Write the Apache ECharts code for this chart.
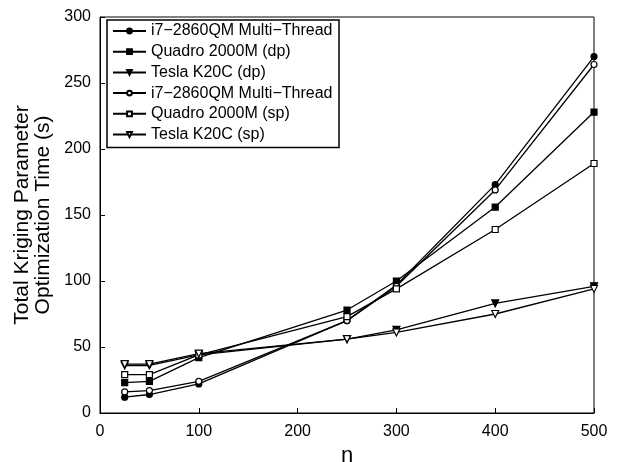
<!DOCTYPE html>
<html>
<head>
<meta charset="utf-8">
<script src="https://cdn.jsdelivr.net/npm/echarts@6/dist/echarts.min.js"></script>
<style>
  html, body { margin: 0; padding: 0; background: #fff; }
  #chart { width: 622px; height: 462px; }
</style>
</head>
<body>
<div id="chart"></div>
<script>
// problem sizes (n)
var nValues = [25, 50, 100, 250, 300, 400, 500];

// optimization time in seconds
var i7Dp = [12, 14, 22, 70, 97, 173, 270];
var quadroDp = [23, 24, 42, 78, 100, 156, 228];
var teslaDp = [36, 36, 44, 56, 63, 83, 96];
var i7Sp = [16, 17, 24, 70, 96, 169, 264];
var quadroSp = [29, 29, 44, 73, 94, 139, 189];
var teslaSp = [37, 37, 45, 56, 61, 75, 94];

var xTicks = [0, 100, 200, 300, 400, 500];
var yTicks = [0, 50, 100, 150, 200, 250, 300];

var font = 'Liberation Sans, Arial, Helvetica, sans-serif';

function pairs(vals) {
    var out = [];
    for (var i = 0; i < nValues.length; i++) {
        out.push([nValues[i], vals[i]]);
    }
    return out;
}

function makeSeries(name, vals, symbol, filled, size) {
    return {
        name: name,
        type: 'line',
        data: pairs(vals),
        symbol: symbol,
        symbolSize: size,
        showAllSymbol: true,
        lineStyle: { color: '#000', width: 1.3 },
        itemStyle: {
            color: filled ? '#000' : '#fff',
            borderColor: '#000',
            borderWidth: 1.2
        },
        emphasis: { disabled: true },
        animation: false
    };
}

var triDown = 'path://M0,0 L10,0 L5,9 Z';

var chart = echarts.init(document.getElementById('chart'));
var options = {
    backgroundColor: '#fff',
    textStyle: { fontFamily: font },
    grid: {
        left: 100,
        right: 28,
        top: 17,
        bottom: 49,
        outerBoundsMode: 'none',
        show: true,
        borderColor: '#000',
        borderWidth: 1
    },
    legend: {
        orient: 'vertical',
        left: 107,
        top: 20,
        itemWidth: 33,
        itemHeight: 6,
        itemGap: 4.7,
        padding: [3, 1, 5, 5],
        borderColor: '#000',
        borderWidth: 1.5,
        backgroundColor: '#fff',
        textStyle: {
            fontFamily: font,
            fontSize: 16,
            lineHeight: 16,
            color: '#000',
            width: 187,
            overflow: 'truncate',
            ellipsis: ''
        },
        data: [
            'i7\u22122860QM Multi\u2212Threaded (dp)',
            'Quadro 2000M (dp)',
            'Tesla K20C (dp)',
            'i7\u22122860QM Multi\u2212Threaded (sp)',
            'Quadro 2000M (sp)',
            'Tesla K20C (sp)'
        ]
    },
    xAxis: {
        type: 'value',
        min: xTicks[0],
        max: xTicks[xTicks.length - 1],
        interval: 100,
        name: 'n',
        nameLocation: 'middle',
        nameGap: 21,
        nameTextStyle: { fontFamily: font, fontSize: 22, color: '#000' },
        axisLine: { lineStyle: { color: '#000', width: 1 } },
        axisTick: { inside: true, length: 5, lineStyle: { color: '#000' } },
        axisLabel: { fontFamily: font, fontSize: 16, color: '#000', margin: 11 },
        splitLine: { show: false }
    },
    yAxis: {
        type: 'value',
        min: yTicks[0],
        max: yTicks[yTicks.length - 1],
        interval: 50,
        name: 'Total Kriging Parameter\nOptimization Time (s)',
        nameLocation: 'middle',
        nameGap: 45,
        nameTextStyle: { fontFamily: font, fontSize: 21, color: '#000', lineHeight: 21 },
        axisLine: { lineStyle: { color: '#000', width: 1 } },
        axisTick: { inside: true, length: 5, lineStyle: { color: '#000' } },
        axisLabel: { fontFamily: font, fontSize: 16, color: '#000', margin: 9 },
        splitLine: { show: false }
    },
    series: [
        makeSeries('i7\u22122860QM Multi\u2212Threaded (dp)', i7Dp, 'circle', true, 6),
        makeSeries('Quadro 2000M (dp)', quadroDp, 'rect', true, 6),
        makeSeries('Tesla K20C (dp)', teslaDp, triDown, true, 7),
        makeSeries('i7\u22122860QM Multi\u2212Threaded (sp)', i7Sp, 'circle', false, 6),
        makeSeries('Quadro 2000M (sp)', quadroSp, 'rect', false, 6),
        makeSeries('Tesla K20C (sp)', teslaSp, triDown, false, 7)
    ]
};
chart.setOption(options);
</script>
</body>
</html>
